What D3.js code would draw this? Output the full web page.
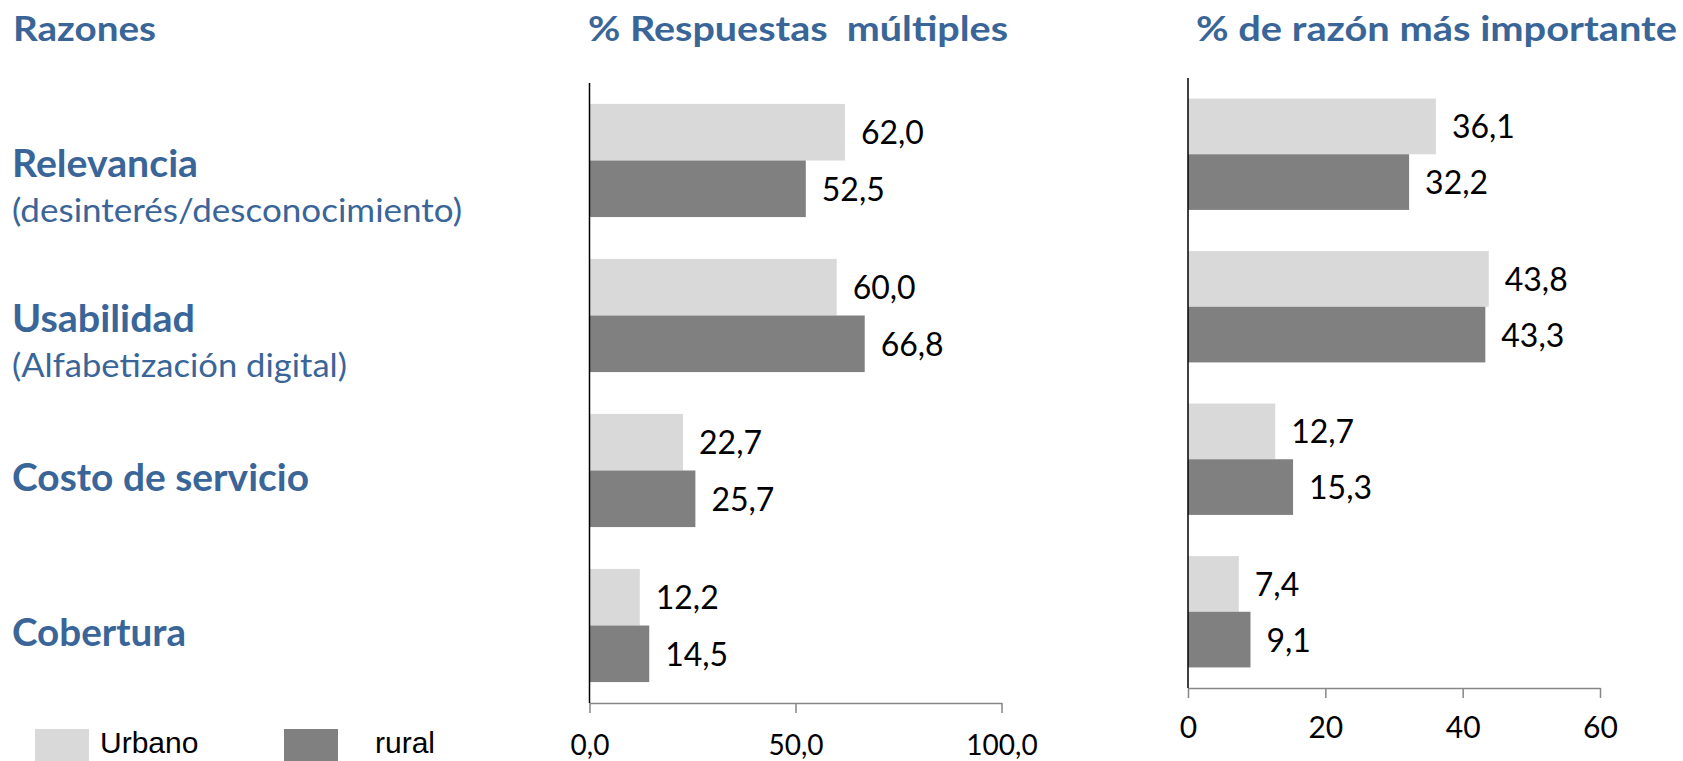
<!DOCTYPE html>
<html>
<head>
<meta charset="utf-8">
<script src="https://cdn.jsdelivr.net/npm/d3@7"></script>
<style>
  html, body { margin: 0; padding: 0; background: #ffffff; }
  svg { display: block; }
</style>
</head>
<body>
<svg id="chart" width="1683" height="761"></svg>
<script>
// ---- data ----
const categories = ["Relevancia", "Usabilidad", "Costo de servicio", "Cobertura"];
const subtitles = ["(desinterés/desconocimiento)", "(Alfabetización digital)", "", ""];
const series = ["Urbano", "rural"];
const multUrbano = [62.0, 60.0, 22.7, 12.2];
const multRural = [52.5, 66.8, 25.7, 14.5];
const impUrbano = [36.1, 43.8, 12.7, 7.4];
const impRural = [32.2, 43.3, 15.3, 9.1];
const ticksMult = [0, 50, 100];
const ticksImp = [0, 20, 40, 60];
const titles = ["Razones", "% Respuestas  múltiples", "% de razón más importante"];

// ---- styles ----
const BLUE = "#3A6598";
const C_URB = "#D9D9D9";
const C_RUR = "#808080";
const AXIS_GRAY = "#868686";
const FONT = "Lato, 'Open Sans', sans-serif";
const colors = {Urbano: C_URB, rural: C_RUR};

const svg = d3.select("#chart");
svg.append("rect").attr("width", 1683).attr("height", 761).attr("fill", "#fff");

const comma1 = d => d3.format(".1f")(d).replace(".", ",");

// ---- titles ----
const titleSpecs = [
  {t: titles[0], x: 13, w: 143},
  {t: titles[1], x: 588, w: 420},
  {t: titles[2], x: 1196, w: 481}
];
svg.selectAll("text.title").data(titleSpecs).join("text")
  .attr("class", "title")
  .attr("x", d => d.x).attr("y", 41)
  .attr("textLength", d => d.w).attr("lengthAdjust", "spacingAndGlyphs")
  .style("font-family", FONT).style("font-weight", 700).style("font-size", "35px")
  .attr("fill", BLUE).style("white-space", "pre")
  .text(d => d.t);

function panel(opts) {
  const {x, y, urb, rur, ticks, fmt, tickFont, tickPad} = opts;
  const g = svg.append("g");
  const inner = d3.scaleBand().domain(series).range([0, y.bandwidth()]);
  const rows = categories.map((c, i) => ({c, vals: [
    {s: "Urbano", v: urb[i]}, {s: "rural", v: rur[i]}
  ]}));
  const grp = g.selectAll("g.grp").data(rows).join("g")
    .attr("class", "grp")
    .attr("transform", d => `translate(0,${y(d.c)})`);
  grp.selectAll("rect").data(d => d.vals).join("rect")
    .attr("x", x(0)).attr("y", d => inner(d.s))
    .attr("width", d => x(d.v) - x(0)).attr("height", inner.bandwidth())
    .attr("fill", d => colors[d.s]);
  grp.selectAll("text.val").data(d => d.vals).join("text")
    .attr("class", "val")
    .attr("x", d => x(d.v) + 16)
    .attr("y", d => inner(d.s) + inner.bandwidth() / 2 + 12)
    .style("font-family", FONT).style("font-size", "32px").attr("fill", "#000")
    .text(d => comma1(d.v));

  // x axis
  const [y0, y1] = y.range();
  const ax = g.append("g").attr("transform", `translate(0,${y1})`)
    .call(d3.axisBottom(x).tickValues(ticks).tickFormat(fmt)
      .tickSize(10).tickSizeOuter(0).tickPadding(tickPad));
  ax.select(".domain").attr("stroke", AXIS_GRAY).attr("stroke-width", 1.5);
  ax.selectAll(".tick line").attr("stroke", AXIS_GRAY).attr("stroke-width", 1.5);
  ax.selectAll(".tick text").attr("fill", "#000")
    .style("font-family", FONT).style("font-size", tickFont + "px");
  // vertical axis
  g.append("line").attr("x1", x(0)).attr("x2", x(0)).attr("y1", y0).attr("y2", y1)
    .attr("stroke", "#000").attr("stroke-width", 1.5);
}

const xMult = d3.scaleLinear().domain([0, 100]).range([589.5, 1001.5]);
const yMult = d3.scaleBand().domain(categories).range([83, 703]).paddingInner(0.27).paddingOuter(0.135);
const xImp = d3.scaleLinear().domain([0, 60]).range([1188, 1600]);
const yImp = d3.scaleBand().domain(categories).range([78, 688]).paddingInner(0.27).paddingOuter(0.135);

panel({x: xMult, y: yMult, urb: multUrbano, rur: multRural, ticks: ticksMult,
       fmt: comma1, tickFont: 28, tickPad: 22});
panel({x: xImp, y: yImp, urb: impUrbano, rur: impRural, ticks: ticksImp,
       fmt: d3.format("d"), tickFont: 30, tickPad: 19});

// ---- category labels ----
const labelW = [186, 183, 297, 174];
const subW = [450, 335];
categories.forEach((c, i) => {
  const cy = yMult(c) + yMult.bandwidth() / 2;
  const hasSub = subtitles[i] !== "";
  svg.append("text")
    .attr("x", 12).attr("y", hasSub ? cy + 16 : cy + 20)
    .attr("textLength", labelW[i]).attr("lengthAdjust", "spacingAndGlyphs")
    .style("font-family", FONT).style("font-weight", 700).style("font-size", "38px")
    .attr("fill", BLUE).text(c);
  if (hasSub) {
    svg.append("text")
      .attr("x", 12).attr("y", cy + 61)
      .attr("textLength", subW[i]).attr("lengthAdjust", "spacingAndGlyphs")
      .style("font-family", FONT).style("font-size", "32px")
      .attr("fill", BLUE).text(subtitles[i]);
  }
});

// ---- legend ----
const legend = svg.append("g");
const legItems = [
  {s: series[0], sx: 35, tx: 100},
  {s: series[1], sx: 284, tx: 375}
];
legend.selectAll("rect").data(legItems).join("rect")
  .attr("x", d => d.sx).attr("y", 729).attr("width", 54).attr("height", 34)
  .attr("fill", d => colors[d.s]);
legend.selectAll("text").data(legItems).join("text")
  .attr("x", d => d.tx).attr("y", 753)
  .style("font-family", "'Liberation Sans', Arial, sans-serif").style("font-size", "30px")
  .attr("fill", "#000").text(d => d.s);
</script>
</body>
</html>
